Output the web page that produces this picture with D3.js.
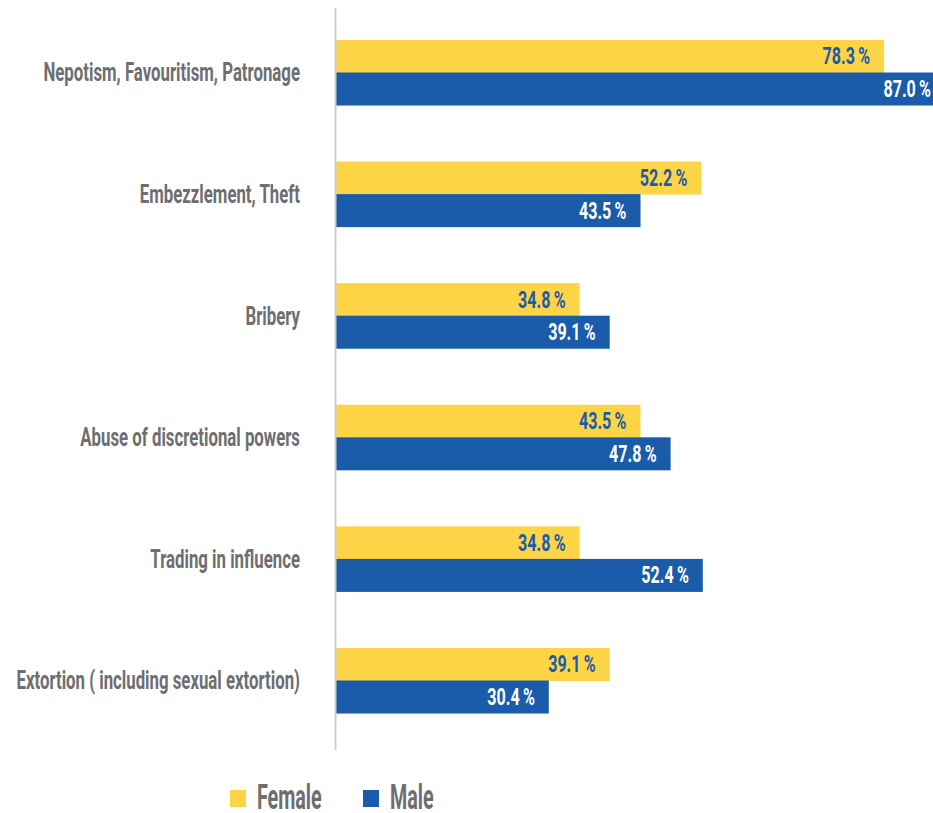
<!DOCTYPE html>
<html>
<head>
<meta charset="utf-8">
<script src="https://cdn.jsdelivr.net/npm/d3@7"></script>
<style>
  html, body { margin: 0; padding: 0; background: #ffffff; }
  svg { display: block; }
  text { font-family: Roboto, "Liberation Sans", sans-serif; font-weight: 700; }
</style>
</head>
<body>
<script>
// Forms of corruption, share of respondents by gender (%)
const categories = [
  "Nepotism, Favouritism, Patronage",
  "Embezzlement, Theft",
  "Bribery",
  "Abuse of discretional powers",
  "Trading in influence",
  "Extortion ( including sexual extortion)"
];
const series = ["Female", "Male"];
const femaleValues = [78.3, 52.2, 34.8, 43.5, 34.8, 39.1];
const maleValues   = [87.0, 43.5, 39.1, 47.8, 52.4, 30.4];

const width = 933, height = 813;
const colors = { Female: "#FDD446", Male: "#1A5CAA" };
const labelColors = { Female: "#1A5CAA", Male: "#FFFFFF" };

const rows = categories.map((c, i) => ({ category: c, Female: femaleValues[i], Male: maleValues[i] }));

const svg = d3.select("body").append("svg")
  .attr("width", width).attr("height", height);

const x0 = 336;
const x = d3.scaleLinear().domain([0, 100]).range([x0, x0 + 700]);

const y = d3.scaleBand().domain(categories)
  .range([11.7, 741.3]).paddingInner(0.465).paddingOuter(0.2325);
const ySub = d3.scaleBand().domain(series).range([0, y.bandwidth()]);

// bars
const groups = svg.append("g").selectAll("g").data(rows).join("g")
  .attr("transform", d => `translate(0,${y(d.category)})`);

groups.selectAll("rect").data(d => series.map(s => ({ s, v: d[s] }))).join("rect")
  .attr("x", x(0))
  .attr("y", d => ySub(d.s))
  .attr("width", d => x(d.v) - x(0))
  .attr("height", ySub.bandwidth() + 0.5)
  .attr("fill", d => colors[d.s]);

// value labels inside bar ends (condensed lettering)
groups.selectAll("text.val").data(d => series.map(s => ({ s, v: d[s] }))).join("text")
  .attr("class", "val")
  .attr("transform", d => `translate(${Math.min(x(d.v), width + 12) - 14},${ySub(d.s) + ySub.bandwidth() / 2}) scale(0.7,1.05)`)
  .attr("text-anchor", "end")
  .attr("dominant-baseline", "central")
  .attr("font-size", 23)
  .attr("fill", d => labelColors[d.s])
  .text(d => d.v.toFixed(1) + "\u2009%");

// category axis line
svg.append("line")
  .attr("x1", x0 - 0.5).attr("x2", x0 - 0.5)
  .attr("y1", 8).attr("y2", 750)
  .attr("stroke", "#cfcfcf").attr("stroke-width", 2);

// category labels
svg.append("g").selectAll("text").data(categories).join("text")
  .attr("transform", d => `translate(300,${y(d) + y.bandwidth() / 2}) scale(0.7,1.05)`)
  .attr("text-anchor", "end")
  .attr("dominant-baseline", "central")
  .attr("font-size", 24)
  .attr("fill", "#6D6E71")
  .text(d => d);

// legend
const legendItems = [
  { s: "Female", x: 230 },
  { s: "Male", x: 363 }
];
const legend = svg.append("g").selectAll("g").data(legendItems).join("g")
  .attr("transform", d => `translate(${d.x},790)`);
legend.append("rect")
  .attr("width", 16).attr("height", 17)
  .attr("fill", d => colors[d.s]);
legend.append("text")
  .attr("transform", `translate(27,19) scale(0.68,1.2)`)
  .attr("font-size", 29)
  .attr("fill", "#6D6E71")
  .text(d => d.s);
</script>
</body>
</html>
